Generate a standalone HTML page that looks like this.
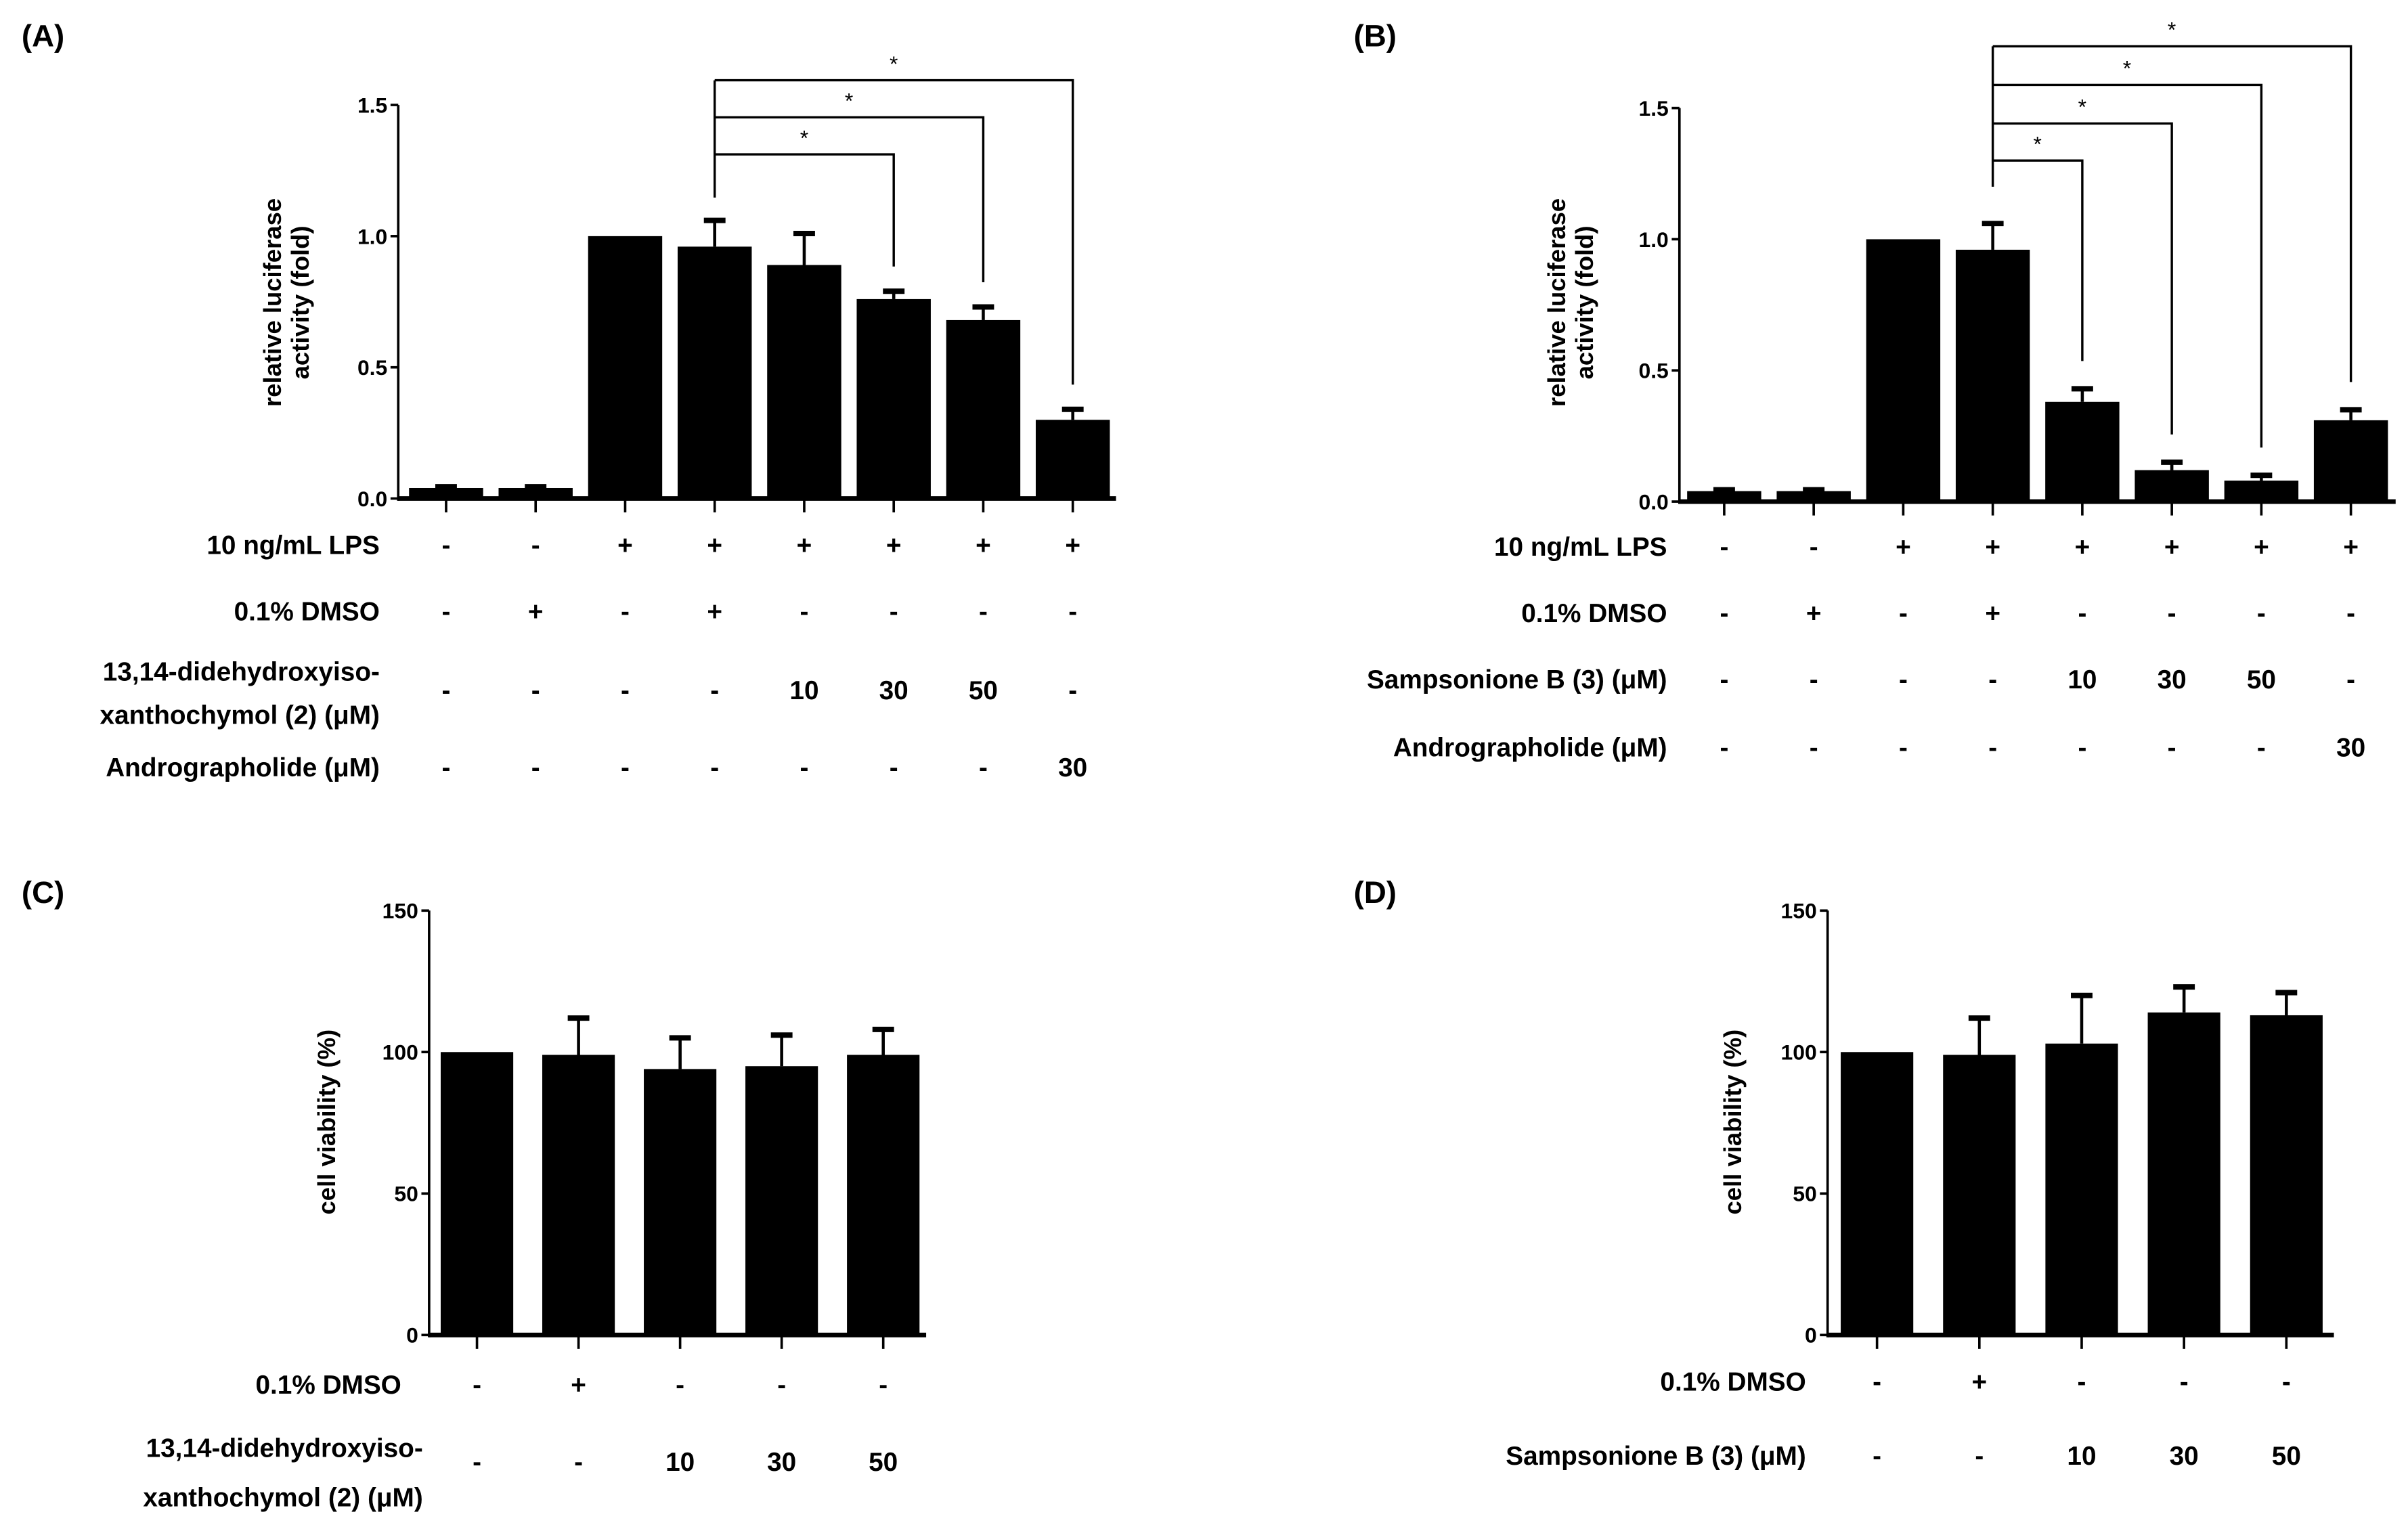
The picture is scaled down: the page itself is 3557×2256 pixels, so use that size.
<!DOCTYPE html>
<html><head><meta charset="utf-8"><style>
html,body{margin:0;padding:0;background:#fff;}
svg{display:block;}
text{font-family:"Liberation Sans",sans-serif;fill:#000;}
.lab{font-size:17px;font-weight:bold;}
.tick{font-size:14px;font-weight:bold;}
.ttl{font-size:16px;font-weight:bold;}
.pl{font-size:20px;font-weight:bold;}
</style></head><body>
<svg id="fig" width="3557" height="2256" viewBox="0 0 1560 989.4" xmlns="http://www.w3.org/2000/svg">
<text class="pl" x="14" y="30">(A)</text>
<text class="pl" x="877" y="30">(B)</text>
<text class="pl" x="14" y="585">(C)</text>
<text class="pl" x="877" y="585">(D)</text>

<text class="ttl" transform="translate(182,196) rotate(-90)" text-anchor="middle">relative luciferase</text>
<text class="ttl" transform="translate(200,196) rotate(-90)" text-anchor="middle">activity (fold)</text>
<text class="ttl" transform="translate(1014,196) rotate(-90)" text-anchor="middle">relative luciferase</text>
<text class="ttl" transform="translate(1032,196) rotate(-90)" text-anchor="middle">activity (fold)</text>
<text class="ttl" transform="translate(217,727) rotate(-90)" text-anchor="middle">cell viability (%)</text>
<text class="ttl" transform="translate(1128,727) rotate(-90)" text-anchor="middle">cell viability (%)</text>

<g class="lab" text-anchor="end">
<text x="246" y="359">10 ng/mL LPS</text>
<text x="246" y="402">0.1% DMSO</text>
<text x="246" y="441">13,14-didehydroxyiso-</text>
<text x="246" y="469">xanthochymol (2) (μM)</text>
<text x="246" y="503">Andrographolide (μM)</text>
<text x="1080" y="360">10 ng/mL LPS</text>
<text x="1080" y="403">0.1% DMSO</text>
<text x="1080" y="446">Sampsonione B (3) (μM)</text>
<text x="1080" y="490">Andrographolide (μM)</text>
<text x="260" y="903">0.1% DMSO</text>
<text x="274" y="944">13,14-didehydroxyiso-</text>
<text x="274" y="976">xanthochymol (2) (μM)</text>
<text x="1170" y="901">0.1% DMSO</text>
<text x="1170" y="949">Sampsonione B (3) (μM)</text>
</g>
</svg>
<script>
const NS="http://www.w3.org/2000/svg";
const svg=document.getElementById('fig');
// Panel A data
const aValues=[0.04,0.04,1.0,0.96,0.89,0.76,0.68,0.30];
const aErrors=[0.005,0.005,0,0.10,0.12,0.03,0.05,0.04];
const aRows=[["-","-","+","+","+","+","+","+"],["-","+","-","+","-","-","-","-"],["-","-","-","-","10","30","50","-"],["-","-","-","-","-","-","-","30"]];
// Panel B data
const bValues=[0.04,0.04,1.0,0.96,0.38,0.12,0.08,0.31];
const bErrors=[0.005,0.005,0,0.10,0.05,0.03,0.02,0.04];
const bRows=[["-","-","+","+","+","+","+","+"],["-","+","-","+","-","-","-","-"],["-","-","-","-","10","30","50","-"],["-","-","-","-","-","-","-","30"]];
// Panel C data
const cValues=[100,99,94,95,99];
const cErrors=[0,13,11,11,9];
const cRows=[["-","+","-","-","-"],["-","-","10","30","50"]];
// Panel D data
const dValues=[100,99,103,114,113];
const dErrors=[0,13,17,9,8];
const dRows=[["-","+","-","-","-"],["-","-","10","30","50"]];
const fracTicks=["0.0","0.5","1.0","1.5"];
const pctTicks=["0","50","100","150"];
// significance brackets: target bar index
const aSig=[5,6,7];
const bSig=[4,5,6,7];

function el(tag,attrs,parent){const e=document.createElementNS(NS,tag);for(const k in attrs)e.setAttribute(k,attrs[k]);(parent||svg).appendChild(e);return e;}

function panel(p){
  const g=el('g',{});
  
  
  const y=v=>p.y0-(v/p.max)*(p.y0-p.yTop);
  const x=i=>p.x0+p.off+i*p.step;
  const ax=el('line',{x1:p.ax,y1:p.yTop,x2:p.ax,y2:p.y0+1.5,stroke:'#000','stroke-width':1.6},g);
  
  
  const xa=el('line',{x1:p.ax,y1:p.y0,x2:p.xEnd,y2:p.y0,stroke:'#000','stroke-width':3},g);
  
  
  p.ticks.forEach((t,k)=>{
    const v=parseFloat(t);
    el('line',{x1:p.ax-5,y1:y(v),x2:p.ax,y2:y(v),stroke:'#000','stroke-width':1.6},g);
    const tx=el('text',{x:p.ax-7,y:y(v)+5,'text-anchor':'end','class':'tick'},g);
    tx.textContent=t;
    
    
  });
  p.vals.forEach((v,i)=>{
    const cx=x(i);
    el('line',{x1:cx,y1:p.y0,x2:cx,y2:p.y0+9,stroke:'#000','stroke-width':1.6},g);
    const r=el('rect',{x:cx-p.bw/2,y:y(v),width:p.bw,height:p.y0-y(v),fill:'#000'},g);
    
    
    const e=p.errs[i];
    if(e>0){
      const top=y(v+e);
      const l=el('line',{x1:cx,y1:top,x2:cx,y2:y(v),stroke:'#000','stroke-width':2},g);
      
      
      el('line',{x1:cx-7,y1:top,x2:cx+7,y2:top,stroke:'#000','stroke-width':3.5},g);
    }
  });
  p.rows.forEach((row,ri)=>{
    row.forEach((s,i)=>{
      const t=el('text',{x:x(i),y:p.rowY[ri],'text-anchor':'middle','class':'lab'},g);
      t.textContent=s;
      
      
    });
  });
  if(p.sig){
    const sx=x(3);
    el('line',{x1:sx,y1:p.sigY[p.sig.length-1],x2:sx,y2:p.sigBottom,stroke:'#000','stroke-width':1.5},g);
    p.sig.forEach((bi,k)=>{
      const hy=p.sigY[k];
      const ex=x(bi);
      const endY=y(p.vals[bi]+p.errs[bi])-p.gap;
      const br=el('polyline',{points:sx+','+hy+' '+ex+','+hy+' '+ex+','+endY,fill:'none',stroke:'#000','stroke-width':1.5},g);
      
      
      const st=el('text',{x:(sx+ex)/2,y:hy-6,'text-anchor':'middle',style:'font-size:14px'},g);
      st.textContent='*';
      
      
    });
  }
}
panel({name:'panel-a',vals:aValues,errs:aErrors,rows:aRows,ticks:fracTicks,max:1.5,ax:258,x0:258,off:31,step:58,bw:48,yTop:68,y0:323,xEnd:723,rowY:[359,402,453,503],sig:aSig,sigY:[100,76,52],sigBottom:128,gap:16});
panel({name:'panel-b',vals:bValues,errs:bErrors,rows:bRows,ticks:fracTicks,max:1.5,ax:1088,x0:1088,off:29,step:58,bw:48,yTop:70,y0:325,xEnd:1552,rowY:[360,403,446,490],sig:bSig,sigY:[104,80,55,30],sigBottom:121,gap:18});
panel({name:'panel-c',vals:cValues,errs:cErrors,rows:cRows,ticks:pctTicks,max:150,ax:278,x0:278,off:31,step:65.8,bw:47,yTop:590,y0:865,xEnd:600,rowY:[903,953]});
panel({name:'panel-d',vals:dValues,errs:dErrors,rows:dRows,ticks:pctTicks,max:150,ax:1184,x0:1184,off:32,step:66.3,bw:47,yTop:590,y0:865,xEnd:1512,rowY:[901,949]});
</script>
</body></html>
